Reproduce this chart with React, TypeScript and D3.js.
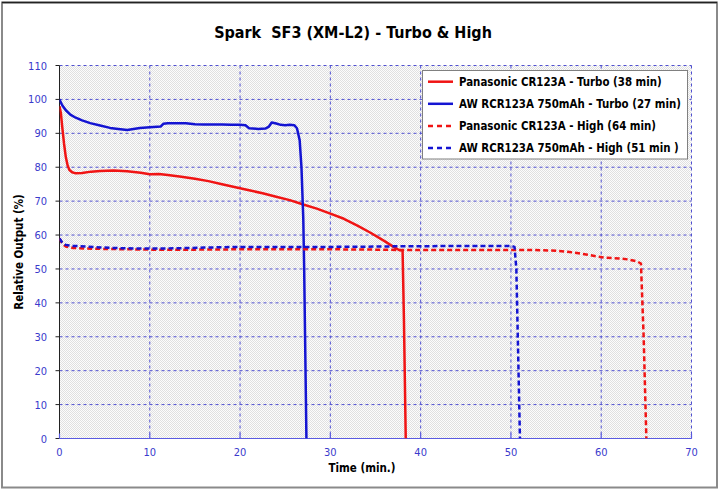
import React from "react";
import * as d3 from "d3";

const title = "Spark  SF3 (XM-L2) - Turbo & High";
const xLabel = "Time (min.)";
const yLabel = "Relative Output (%)";
const xTicks = [0, 10, 20, 30, 40, 50, 60, 70];
const yTicks = [0, 10, 20, 30, 40, 50, 60, 70, 80, 90, 100, 110];

const redTurboT = [0, 0.15, 0.3, 0.5, 0.7, 0.9, 1.1, 1.4, 1.8, 2.5, 3.5, 4.5, 6, 7.5, 9, 10, 11, 12, 13.5, 15, 16.5, 18, 19.5, 21, 22.5, 24, 25.5, 27, 28.5, 30, 31.5, 33, 34.5, 36, 37, 37.6, 38, 38.15, 38.35];
const redTurboV = [98, 96, 92, 87, 83, 80.5, 79.2, 78.5, 78.2, 78.3, 78.7, 78.9, 79, 78.8, 78.4, 77.9, 78, 77.7, 77.2, 76.6, 75.9, 75, 74.1, 73.2, 72.3, 71.3, 70.3, 69, 67.8, 66.3, 64.8, 62.8, 60.6, 58.2, 56.5, 55.6, 55.4, 35, 0];

const blueTurboT = [0, 0.3, 0.7, 1.2, 1.8, 2.5, 3.4, 4.5, 5.6, 6.5, 7.5, 8.2, 8.9, 10, 11.2, 11.5, 12, 13, 14, 15, 16, 17, 18, 19, 20, 20.6, 21, 22, 22.8, 23.2, 23.5, 24, 24.5, 25, 25.5, 26, 26.3, 26.6, 26.8, 27, 27.1, 27.2, 27.35];
const blueTurboV = [100, 98.3, 96.8, 95.5, 94.6, 93.8, 93, 92.3, 91.6, 91.3, 91, 91.3, 91.6, 91.8, 92, 92.8, 93, 93, 93, 92.7, 92.6, 92.6, 92.6, 92.5, 92.5, 92.4, 91.5, 91.3, 91.4, 92, 93.2, 92.9, 92.5, 92.4, 92.5, 92.4, 91.5, 88, 80, 65, 50, 30, 0];

const redHighT = [0, 0.3, 0.7, 1.5, 3, 5, 10, 15, 20, 25, 30, 35, 38, 40, 45, 50, 52, 55, 56.5, 57.5, 58.5, 59.5, 60.5, 62, 63, 64, 64.4, 64.7, 65];
const redHighV = [59, 57.5, 56.6, 56.2, 56, 55.9, 55.7, 55.7, 55.8, 55.8, 55.8, 55.7, 55.6, 55.6, 55.6, 55.6, 55.6, 55.4, 55, 54.6, 54.2, 53.7, 53.3, 53.1, 52.8, 52.2, 51.6, 30, 0];

const blueHighT = [0, 0.3, 0.7, 1.5, 3, 5, 7, 10, 13, 16, 20, 25, 30, 35, 38, 40, 45, 48, 50, 50.4, 50.6, 51.0];
const blueHighV = [59, 57.8, 57.1, 56.8, 56.6, 56.3, 56.1, 56, 56.1, 56.3, 56.5, 56.5, 56.5, 56.6, 56.7, 56.7, 56.8, 56.8, 56.8, 56.5, 50, 0];

const seriesNames = [
  "Panasonic CR123A - Turbo (38 min)",
  "AW RCR123A 750mAh - Turbo (27 min)",
  "Panasonic CR123A - High (64 min)",
  "AW RCR123A 750mAh - High (51 min )",
];

const RED = "#f01414";
const BLUE = "#1414d2";
const FONT = "'DejaVu Sans Condensed', 'DejaVu Sans', sans-serif";

export default function App() {
  const W = 720, H = 490;
  const x = d3.scaleLinear().domain([0, 70]).range([59.5, 691.5]);
  const y = d3.scaleLinear().domain([0, 110]).range([438.5, 65.5]);
  const line = d3.line<[number, number]>().x(d => x(d[0])).y(d => y(d[1]));
  const zip = (t: number[], v: number[]) => t.map((tt, i) => [tt, v[i]] as [number, number]);
  const series = [
    { name: seriesNames[0], d: zip(redTurboT, redTurboV), color: RED, dash: undefined },
    { name: seriesNames[1], d: zip(blueTurboT, blueTurboV), color: BLUE, dash: undefined },
    { name: seriesNames[2], d: zip(redHighT, redHighV), color: RED, dash: "5,3" },
    { name: seriesNames[3], d: zip(blueHighT, blueHighV), color: BLUE, dash: "5,3" },
  ];
  const [x0, x1] = x.range();
  const [y0, y1] = y.range();
  return (
    <svg width={W} height={H} style={{ position: "absolute", left: 0, top: 0 }} fontFamily={FONT}>
      <defs>
        <pattern id="stip" width="2" height="2" patternUnits="userSpaceOnUse">
          <rect width="2" height="2" fill="#fcfcfc" />
          <rect width="1" height="1" fill="#e0e0e0" />
          <rect x="1" y="1" width="1" height="1" fill="#e0e0e0" />
        </pattern>
        <clipPath id="clip">
          <rect x={x0} y={y1 - 2} width={x1 - x0} height={y0 - y1 + 2} />
        </clipPath>
      </defs>
      <rect x={0} y={0} width={W} height={H} fill="#fff" />
      <rect x={2} y={2.5} width={715} height={485} fill="#fff" stroke="#8a8a8a" strokeWidth={2} />
      <line x1={2} x2={717} y1={2.5} y2={2.5} stroke="#222" strokeWidth={1.5} />
      <text x={353} y={38} textAnchor="middle" fontSize={16} fontWeight="bold" fill="#000" style={{ whiteSpace: "pre" }}>{title}</text>
      <rect x={x0} y={y1} width={x1 - x0} height={y0 - y1} fill="url(#stip)" />
      {yTicks.filter(v => v > 0).map(v => (
        <line key={"gy" + v} x1={x0} x2={x1} y1={y(v)} y2={y(v)} stroke="#5050d0" strokeWidth={1} strokeDasharray="3,3" />
      ))}
      {xTicks.filter(v => v > 0).map(v => (
        <line key={"gx" + v} x1={x(v)} x2={x(v)} y1={y1} y2={y0} stroke="#5050d0" strokeWidth={1} strokeDasharray="3,3" />
      ))}
      <line x1={x0} x2={x0} y1={y1} y2={y0} stroke="#222" strokeWidth={1} />
      {yTicks.map(v => (
        <line key={"ty" + v} x1={x0 - 4} x2={x0} y1={y(v)} y2={y(v)} stroke="#222" strokeWidth={1} />
      ))}
      <line x1={x0} x2={x1} y1={y0} y2={y0} stroke="#5a5ae0" strokeWidth={1.2} />
      {xTicks.map(v => (
        <line key={"tx" + v} x1={x(v)} x2={x(v)} y1={y0 - 5} y2={y0} stroke="#5a5ae0" strokeWidth={1.2} />
      ))}
      {yTicks.map(v => (
        <text key={"ly" + v} x={47} y={y(v) + 4} textAnchor="end" fontSize={11} fill="#3a3acc">{v}</text>
      ))}
      {xTicks.map(v => (
        <text key={"lx" + v} x={x(v)} y={456} textAnchor="middle" fontSize={11} fill="#3a3acc">{v}</text>
      ))}
      <text x={362} y={472} textAnchor="middle" fontSize={11.5} fontWeight="bold" fill="#000">{xLabel}</text>
      <text transform={`translate(23,${(y0 + y1) / 2}) rotate(-90)`} textAnchor="middle" fontSize={11.5} fontWeight="bold" fill="#000">{yLabel}</text>
      <g clipPath="url(#clip)">
        {series.map((s, i) => (
          <path key={"s" + i} d={line(s.d) || ""} fill="none" stroke={s.color} strokeWidth={2.5} strokeDasharray={s.dash} strokeLinejoin="round" />
        ))}
      </g>
      <g>
        <rect x={422.5} y={70.5} width={265} height={88.5} fill="#fff" stroke="#808080" strokeWidth={1} />
        {series.map((s, i) => (
          <g key={"lg" + i} transform={`translate(0,${81.7 + i * 22.1})`}>
            <line x1={428} x2={453} y1={0} y2={0} stroke={s.color} strokeWidth={2.5} strokeDasharray={s.dash ? "5,4" : undefined} />
            <text x={459} y={4} fontSize={11.4} fontWeight="bold" fill="#000" style={{ whiteSpace: "pre" }}>{s.name}</text>
          </g>
        ))}
      </g>
    </svg>
  );
}
